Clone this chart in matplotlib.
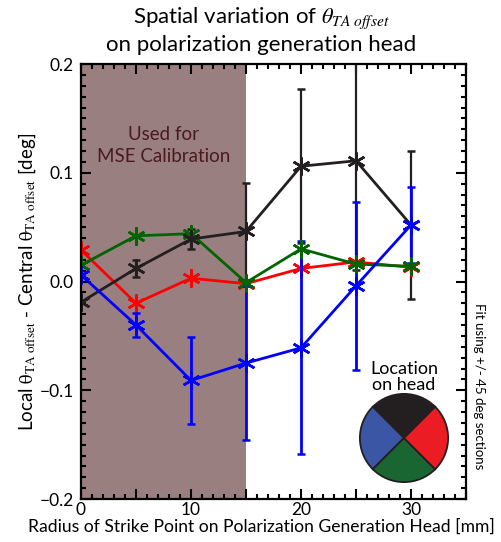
import matplotlib
matplotlib.use("Agg")
import matplotlib.pyplot as plt
import numpy as np
from matplotlib.ticker import MultipleLocator, FuncFormatter

plt.rcParams['font.family'] = ['Lato', 'DejaVu Sans']
plt.rcParams['mathtext.fontset'] = 'stix'

# strike point radius [mm]
radius = [0, 5, 10, 15, 20, 25, 30]

# local - central theta offset [deg] per head quadrant
black_vals = [-0.019, 0.012, 0.039, 0.046, 0.106, 0.111, 0.052]
black_err = [0.0, 0.008, 0.009, 0.045, 0.071, 0.10, 0.068]
red_vals = [0.029, -0.020, 0.003, -0.002, 0.012, 0.018, 0.013]
blue_vals = [0.006, -0.040, -0.091, -0.075, -0.061, -0.004, 0.052]
blue_err = [0.0, 0.011, 0.040, 0.071, 0.098, 0.077, 0.035]
green_vals = [0.015, 0.042, 0.044, -0.001, 0.030, 0.016, 0.014]

calib_range = [0, 15]

c_black = '#231f20'
c_red = '#ff0000'
c_blue = '#0000ff'
c_green = '#006400'

fig = plt.figure(figsize=(5.02, 5.42), dpi=100)
ax = fig.add_axes([81 / 502, 1 - 499 / 542, 385 / 502, 435 / 542])

ax.axvspan(calib_range[0], calib_range[1], color='#9a7f80', lw=0, zorder=0)
ax.text(7.5, 0.125, 'Used for\nMSE Calibration', ha='center', va='center',
        color='#4a1a1f', fontsize=13.5, linespacing=1.3)

mk = dict(marker=(6, 2, 0), markersize=13, mew=1.8, lw=2)
ax.errorbar(radius, black_vals, yerr=black_err, color=c_black, capsize=3,
            elinewidth=1.6, capthick=1.6, **mk)
ax.plot(radius, red_vals, color=c_red, **mk)
ax.errorbar(radius, blue_vals, yerr=blue_err, color=c_blue, capsize=3,
            elinewidth=2, capthick=2, **mk)
ax.plot(radius, green_vals, color=c_green, **mk)

ax.set_xlim(0, 35)
ax.set_ylim(-0.2, 0.2)
ax.xaxis.set_major_locator(MultipleLocator(5))
ax.xaxis.set_minor_locator(MultipleLocator(1))
ax.xaxis.set_major_formatter(FuncFormatter(lambda v, p: '%d' % v if v % 10 == 0 and v < 35 else ''))
ax.yaxis.set_major_locator(MultipleLocator(0.1))
ax.yaxis.set_minor_locator(MultipleLocator(0.01))
ax.yaxis.set_major_formatter(FuncFormatter(lambda v, p: ('%.1f' % v).replace('-', '\u2212')))
ax.tick_params(which='both', direction='in', top=True, right=True, width=1.5,
               labelsize=12.5, colors='black')
ax.tick_params(which='major', length=7)
ax.tick_params(axis='x', which='major', pad=2)
ax.tick_params(axis='y', which='major', pad=5)
ax.tick_params(which='minor', length=3.5)
for s in ax.spines.values():
    s.set_linewidth(1.6)

fig.text(261 / 502, 1 - 18 / 542, r'Spatial variation of $\theta_{TA\ offset}$',
         ha='center', va='center', fontsize=16)
fig.text(261 / 502, 1 - 45 / 542, 'on polarization generation head',
         ha='center', va='center', fontsize=16)
fig.text(261 / 502, 1 - 527 / 542,
         'Radius of Strike Point on Polarization Generation Head [mm]',
         ha='center', va='center', fontsize=12.6)
fig.text(27 / 502, 1 - 282 / 542,
         r'Local $\mathrm{\theta}_{\mathrm{TA\ offset}}$ - Central $\mathrm{\theta}_{\mathrm{TA\ offset}}$ [deg]',
         ha='center', va='center', rotation=90, fontsize=13.5)
fig.text(479 / 502, 1 - 386 / 542, 'Fit using +/- 45 deg sections',
         ha='center', va='center', rotation=-90, fontsize=9.5)

# head location key
fig.text(404 / 502, 1 - 377 / 542, 'Location\non head', ha='center', va='center',
         fontsize=13, linespacing=1.05)
pax = fig.add_axes([(404 - 45) / 502, 1 - (438 + 45) / 542, 90 / 502, 90 / 542])
pax.pie([1, 1, 1, 1], startangle=45, colors=['#231f20', '#3a56a5', '#1a6632', '#ec1c24'],
        wedgeprops=dict(edgecolor='#231f20', linewidth=1.3))
pax.set_xlim(-1.02, 1.02)
pax.set_ylim(-1.02, 1.02)
pax.set_aspect('equal')

fig.savefig('out.png', dpi=100)
